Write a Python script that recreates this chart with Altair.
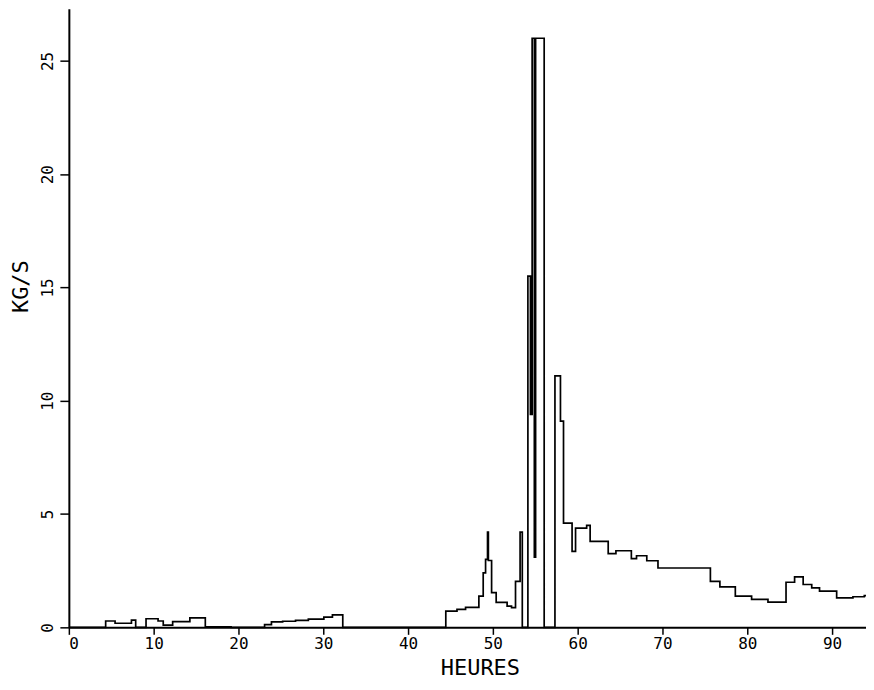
import altair as alt
import pandas as pd

# Step series: hour at which each level starts, and flow level (kg/s)
heures = [0, 4.34, 5.45, 7.38, 7.88, 9.1, 10.52, 11.13, 12.24, 14.27, 16.09, 19.13,
          23.08, 23.89, 25.21, 26.73, 28.24, 30.07, 31.08, 32.3,
          44.45, 45.77, 46.78, 48.35, 48.86, 49.14, 49.37, 49.47, 49.85, 50.39,
          51.68, 52.2, 52.67, 53.21, 53.47,
          54.13, 54.43, 54.63, 54.89, 55.04, 56.05,
          57.32, 57.97, 58.33, 59.34, 59.75, 61.06, 61.47, 63.6, 64.51, 66.33, 66.94,
          68.15, 69.47, 75.65, 76.77, 78.59, 80.51, 82.44, 84.57, 85.58, 86.59, 87.6,
          88.52, 90.54, 92.46, 93.8, 94.0]
kgs = [0, 0.28, 0.18, 0.32, 0, 0.38, 0.28, 0.1, 0.25, 0.42, 0.02, 0.0,
       0.12, 0.24, 0.27, 0.31, 0.36, 0.45, 0.55, 0,
       0.72, 0.79, 0.88, 1.38, 2.4, 3.0, 4.2, 2.95, 1.53, 1.1,
       0.94, 0.87, 2.03, 4.2, 0,
       15.5, 9.4, 26.0, 3.1, 26.0, 0,
       11.1, 9.1, 4.6, 3.35, 4.38, 4.5, 3.79, 3.25, 3.38, 3.03, 3.16,
       2.94, 2.62, 2.03, 1.79, 1.38, 1.23, 1.11, 1.99, 2.23, 1.89, 1.74,
       1.6, 1.3, 1.35, 1.4, 1.4]

x_ticks = [0, 10, 20, 30, 40, 50, 60, 70, 80, 90]
y_ticks = [0, 5, 10, 15, 20, 25]

df = pd.DataFrame({"h": heures, "v": kgs})

FONT = "DejaVu Sans Mono"

chart = alt.Chart(df).mark_line(
    interpolate="step-after", color="black", strokeWidth=1.7
).encode(
    x=alt.X("h:Q",
            scale=alt.Scale(domain=[0, 94.0], nice=False, zero=False),
            axis=alt.Axis(values=x_ticks, title="HEURES", grid=False,
                          tickSize=7, tickWidth=1.5, tickColor="black",
                          domainColor="black", domainWidth=2,
                          labelFont=FONT, labelFontSize=16, labelColor="black",
                          labelPadding=1,
                          titleFont=FONT, titleFontSize=22, titleFontWeight="normal",
                          titleColor="black", titleX=412, titleY=47,
                          titleAlign="center", titleBaseline="alphabetic")),
    y=alt.Y("v:Q",
            scale=alt.Scale(domain=[0, 27.3], nice=False),
            axis=alt.Axis(values=y_ticks, title="KG/S", grid=False,
                          tickSize=9, tickWidth=1.5, tickColor="black",
                          domainColor="black", domainWidth=2,
                          labelFont=FONT, labelFontSize=16, labelColor="black",
                          labelAngle=270, labelAlign="center",
                          labelBaseline="bottom", labelPadding=4,
                          titleFont=FONT, titleFontSize=22, titleFontWeight="normal",
                          titleColor="black", titleAngle=270, titleX=-48, titleY=278,
                          titleAlign="center", titleBaseline="middle")),
).properties(
    width=799,
    height=620,
    autosize=alt.AutoSizeParams(type="none"),
    padding={"left": 61, "top": 0, "right": 0, "bottom": 54},
    background="white",
).configure_view(stroke=None)

chart.save("out.html", embed_options={"renderer": "svg", "actions": False})
